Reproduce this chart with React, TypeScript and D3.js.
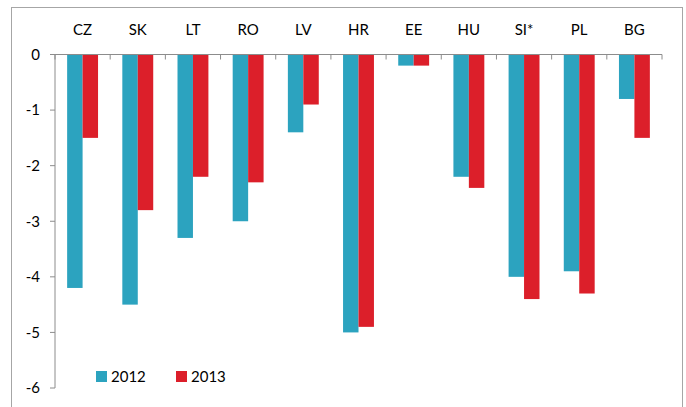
import React from "react";
import * as d3 from "d3";

const categories = ["CZ", "SK", "LT", "RO", "LV", "HR", "EE", "HU", "SI*", "PL", "BG"];
const values2012 = [-4.2, -4.5, -3.3, -3.0, -1.4, -5.0, -0.2, -2.2, -4.0, -3.9, -0.8];
const values2013 = [-1.5, -2.8, -2.2, -2.3, -0.9, -4.9, -0.2, -2.4, -4.4, -4.3, -1.5];
const yTicks = [0, -1, -2, -3, -4, -5, -6];
const seriesNames = ["2012", "2013"];
const colors = ["#2ca3bf", "#dc1f2a"];

export default function App() {
  const W = 686, H = 407;
  const font = "Lato, 'Noto Sans', sans-serif";
  const x = d3.scaleBand<string>().domain(categories).range([55, 662]).paddingInner(0).paddingOuter(0);
  const y = d3.scaleLinear().domain([0, -6]).range([54.5, 388]);
  const bw = x.bandwidth();
  const barW = bw * 0.28;
  const series = [values2012, values2013];
  return (
    <svg width={W} height={H} style={{ position: "absolute", left: 0, top: 0, background: "#fff" }}>
      <rect x={11.5} y={7.5} width={671} height={420} fill="#fff" stroke="#a6a6a6" strokeWidth={1} />
      {categories.map((c, i) => {
        const cx = (x(c) as number) + bw / 2;
        return series.map((vals, s) => {
          const v = vals[i];
          const x0 = cx - barW + s * barW;
          return (
            <rect key={c + s} x={x0} y={y(0)} width={barW} height={y(v) - y(0)} fill={colors[s]} />
          );
        });
      })}
      {/* x axis at zero */}
      <line x1={50} x2={662} y1={y(0)} y2={y(0)} stroke="#8c8c8c" strokeWidth={1} />
      {categories.map((c) => (
        <line key={"t" + c} x1={(x(c) as number)} x2={(x(c) as number)} y1={y(0)} y2={y(0) + 5} stroke="#8c8c8c" />
      ))}
      <line x1={662} x2={662} y1={y(0)} y2={y(0) + 5} stroke="#8c8c8c" />
      {/* y axis */}
      <line x1={55} x2={55} y1={y(0)} y2={y(-6)} stroke="#8c8c8c" strokeWidth={1} />
      {yTicks.map((t) => (
        <g key={"y" + t}>
          <line x1={50} x2={55} y1={y(t)} y2={y(t)} stroke="#8c8c8c" />
          <text x={40} y={y(t)} dy="0.35em" textAnchor="end" fontFamily={font} fontSize={15} fill="#000">
            {t === 0 ? "0" : "-" + Math.abs(t)}
          </text>
        </g>
      ))}
      {categories.map((c) => (
        <text key={"l" + c} x={(x(c) as number) + bw / 2} y={30} dy="0.35em" textAnchor="middle" fontFamily={font} fontSize={15} fill="#000">
          {c}
        </text>
      ))}
      {/* legend */}
      {seriesNames.map((n, i) => (
        <g key={n} transform={`translate(${96 + i * 80},0)`}>
          <rect x={0} y={371} width={11} height={11} fill={colors[i]} />
          <text x={15} y={377} dy="0.35em" fontFamily={font} fontSize={15} fill="#000">{n}</text>
        </g>
      ))}
    </svg>
  );
}
